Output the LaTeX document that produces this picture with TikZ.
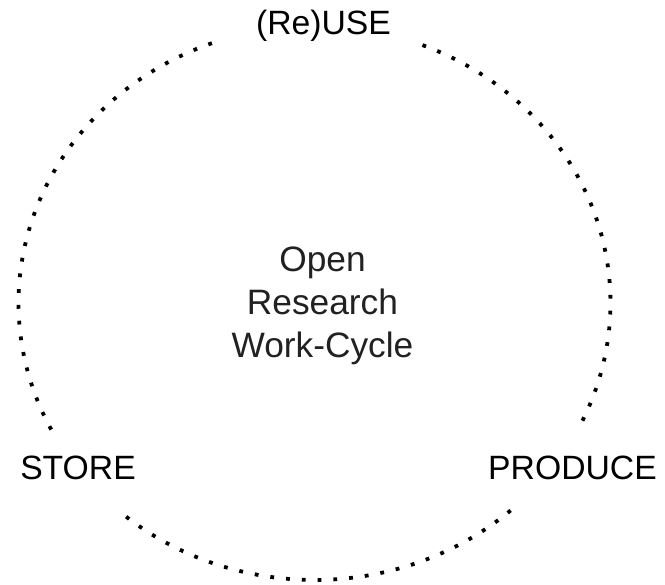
\documentclass[tikz,border=0pt]{standalone}
\usepackage{fontspec}
\setmainfont{Liberation Sans}
\definecolor{centertext}{RGB}{33,33,33}
\begin{document}
\begin{tikzpicture}[x=1pt,y=1pt,
  lbl/.style={anchor=base,inner sep=0pt,font=\fontsize{33.7}{40}\selectfont,text=black},
  ctr/.style={anchor=base,inner sep=0pt,font=\fontsize{35.3}{42}\selectfont,text=centertext},
  dotarc/.style={line width=3.8pt,dash pattern=on 3.8pt off 12pt,line cap=butt}]
\useasboundingbox (0,0) rectangle (665,585);
\coordinate (c) at (314.5,282);
\node[lbl] (reuse) at (323.5,550) {(Re)USE};
\node[lbl] (store) at (78,105) {STORE};
\node[lbl] (produce) at (572.5,105) {PRODUCE};
\node[ctr] (open) at (322.5,313) {Open};
\node[ctr] (research) at (322.5,270) {Research};
\node[ctr] (workcycle) at (322.5,227) {Work-Cycle};
\draw[dotarc] ([shift={(68.6:296 and 277)}]c) arc[start angle=68.6,end angle=-27.2,x radius=296,y radius=277];
\draw[dotarc] ([shift={(-48.5:296 and 277)}]c) arc[start angle=-48.5,end angle=-131.5,x radius=296,y radius=277];
\draw[dotarc] ([shift={(207.2:296 and 277)}]c) arc[start angle=207.2,end angle=108.7,x radius=296,y radius=277];
\end{tikzpicture}
\end{document}
